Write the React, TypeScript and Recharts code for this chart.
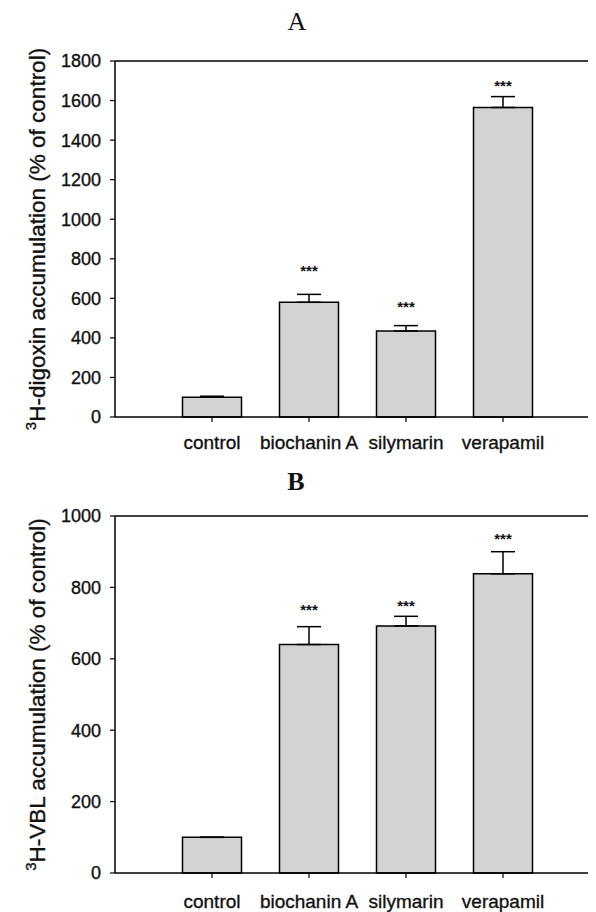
import React from 'react';
import {
  BarChart,
  Bar,
  XAxis,
  YAxis,
  ErrorBar,
  LabelList,
  ReferenceLine,
} from 'recharts';

// treatments on the x axis (same for both panels)
const categories = ['control', 'biochanin A', 'silymarin', 'verapamil'];

// panel A: 3H-digoxin accumulation (% of control)
const digoxinMean = [100, 580, 435, 1565];
const digoxinSem = [5, 40, 27, 55];
const digoxinStarAt = [null, 743, 561, 1678];
const digoxinTicks = [0, 200, 400, 600, 800, 1000, 1200, 1400, 1600, 1800];

// panel B: 3H-VBL accumulation (% of control)
const vblMean = [100, 640, 692, 838];
const vblSem = [0, 50, 27, 62];
const vblStarAt = [null, 737, 748, 937];
const vblTicks = [0, 200, 400, 600, 800, 1000];

const SANS = 'Liberation Sans, Arial, Helvetica, sans-serif';
const SERIF = 'Liberation Serif, Times New Roman, serif';
const INK = '#111';

const buildRows = (means: number[], sems: number[], stars: (number | null)[]) =>
  categories.map((name, i) => ({
    name,
    mean: means[i],
    err: [0, sems[i]],
    star: stars[i],
  }));

const digoxinRows = buildRows(digoxinMean, digoxinSem, digoxinStarAt);
const vblRows = buildRows(vblMean, vblSem, vblStarAt);

// y-axis title with the superscript 3
const renderYLabel = (name: string, cx: number) => (props: any) => {
  const vb = props.viewBox || {};
  const cy = vb.y + vb.height / 2;
  return (
    <text
      x={cx}
      y={cy}
      transform={`rotate(-90 ${cx} ${cy})`}
      textAnchor="middle"
      fontFamily={SANS}
      fontSize={22.5}
      fill={INK}
      stroke={INK}
      strokeWidth={0.35}
    >
      <tspan fontSize={15} dy={-9}>3</tspan>
      <tspan dy={9}>{name}</tspan>
    </text>
  );
};

// significance stars, placed at a data value above the bar
const renderStars = (means: number[]) => (props: any) => {
  const { x, y, width, height, value, index } = props;
  if (value == null) return null;
  const scale = height / means[index];
  const sy = y + height - value * scale;
  return (
    <text
      x={x + width / 2}
      y={sy}
      textAnchor="middle"
      dominantBaseline="central"
      fontFamily={SANS}
      fontWeight="bold"
      fontSize={15}
      fill={INK}
    >
      ***
    </text>
  );
};

interface PanelProps {
  rows: any[];
  means: number[];
  ticks: number[];
  yMax: number;
  yLabel: string;
  height: number;
  top: number;
  bottom: number;
  tickMargin: number;
}

const Panel: React.FC<PanelProps> = ({ rows, means, ticks, yMax, yLabel, height, top, bottom, tickMargin }) => (
  <BarChart
    width={600}
    height={height}
    data={rows}
    margin={{ top, right: 8, bottom, left: 0 }}
    barSize={59}
  >
    <XAxis
      dataKey="name"
      interval={0}
      padding={{ left: 48.5, right: 48.5 }}
      height={35}
      tickSize={5}
      tickMargin={tickMargin}
      axisLine={{ stroke: '#000', strokeWidth: 1.5 }}
      tickLine={{ stroke: '#000', strokeWidth: 1.2 }}
      tick={{ fontFamily: SANS, fontSize: 19, fill: INK, stroke: INK, strokeWidth: 0.35 }}
    />
    <YAxis
      width={107}
      domain={[0, yMax]}
      ticks={ticks}
      interval={0}
      tickSize={5}
      tickMargin={9}
      axisLine={{ stroke: '#000', strokeWidth: 1.5 }}
      tickLine={{ stroke: '#000', strokeWidth: 1.2 }}
      tick={{ fontFamily: SANS, fontSize: 18, fill: INK, stroke: INK, strokeWidth: 0.35 }}
      label={{ content: renderYLabel(yLabel, 37) }}
    />
    <ReferenceLine y={yMax} stroke="#000" strokeWidth={1.5} />
    <Bar dataKey="mean" fill="#d3d3d3" stroke="#000" strokeWidth={1.5} isAnimationActive={false}>
      <ErrorBar dataKey="err" direction="y" width={12} stroke="#000" strokeWidth={1.5} isAnimationActive={false} />
      <LabelList dataKey="star" content={renderStars(means)} />
    </Bar>
  </BarChart>
);

const App: React.FC = () => (
  <div style={{ position: 'relative', width: 588, height: 904, overflow: 'hidden', background: '#fff' }}>
    <div
      style={{
        position: 'absolute', left: 0, top: 0, width: 578, lineHeight: '28px',
        textAlign: 'center', fontFamily: SERIF, fontSize: 26, color: INK,
      }}
    >
      A
    </div>
    <div style={{ position: 'absolute', left: 0, top: 0 }}>
      <Panel
        rows={digoxinRows}
        means={digoxinMean}
        ticks={digoxinTicks}
        yMax={1800}
        yLabel="H-digoxin accumulation (% of control)"
        height={450}
        top={53}
        bottom={6}
        tickMargin={14}
      />
    </div>
    <div
      style={{
        position: 'absolute', left: 0, top: 460, width: 576, lineHeight: '28px',
        textAlign: 'center', fontFamily: SERIF, fontSize: 26, fontWeight: 'bold', color: INK,
      }}
    >
      B
    </div>
    <div style={{ position: 'absolute', left: 0, top: 450 }}>
      <Panel
        rows={vblRows}
        means={vblMean}
        ticks={vblTicks}
        yMax={1000}
        yLabel="H-VBL accumulation (% of control)"
        height={454}
        top={58}
        bottom={4}
        tickMargin={17}
      />
    </div>
  </div>
);

export default App;
